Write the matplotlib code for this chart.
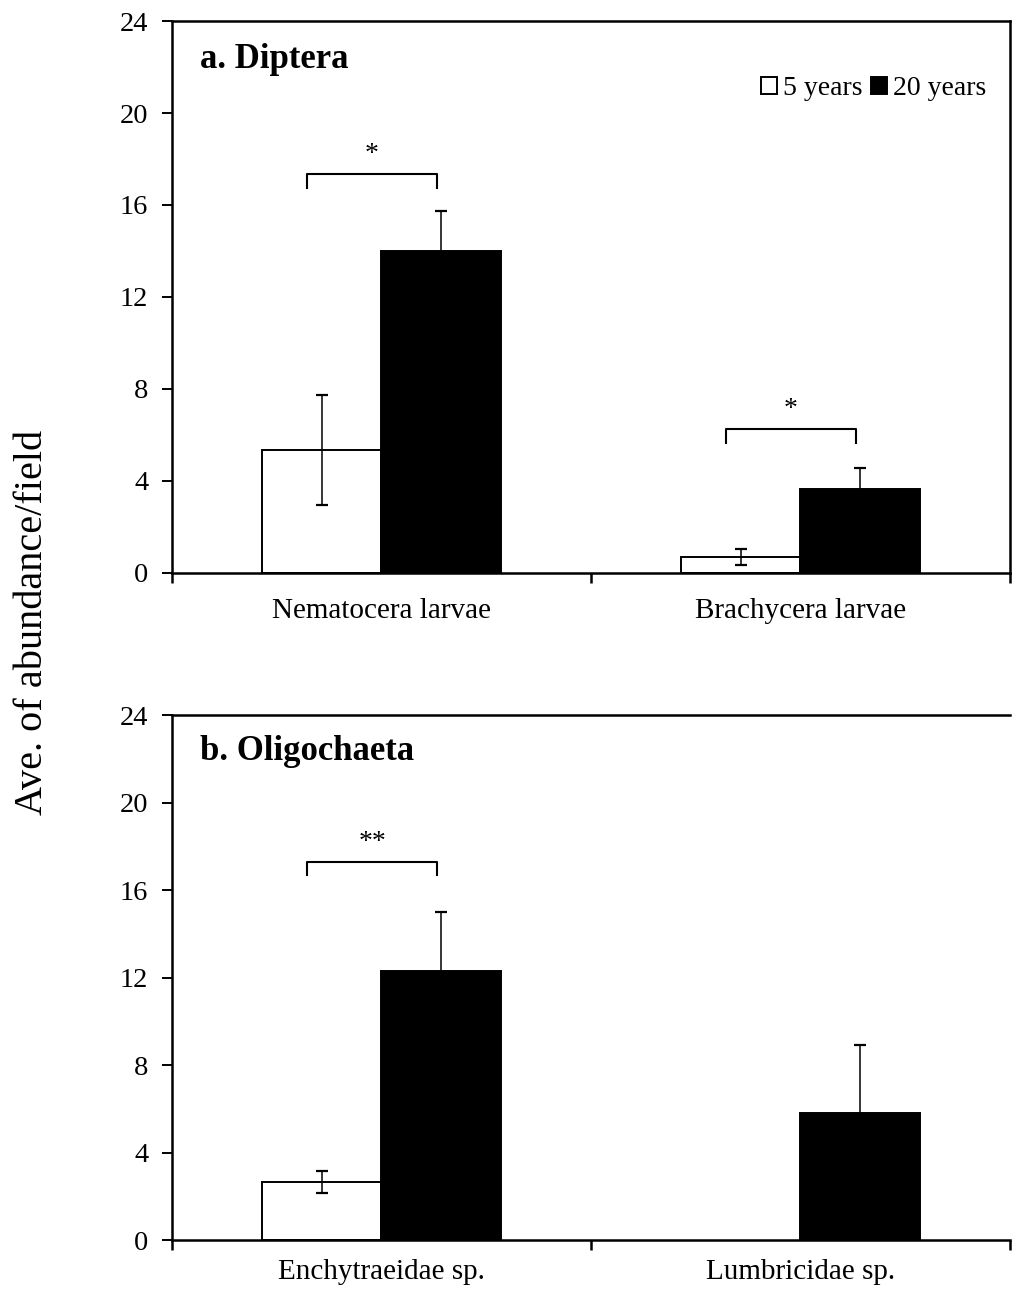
import matplotlib.pyplot as plt
from matplotlib.patches import Patch
import numpy as np

plt.rcParams['font.family'] = ['Liberation Serif', 'DejaVu Serif']

# panel a: Diptera
diptera_taxa = ['Nematocera larvae', 'Brachycera larvae']
diptera_5y = [5.35, 0.68]
diptera_5y_se = [2.4, 0.35]
diptera_20y = [14.0, 3.66]
diptera_20y_se = [1.75, 0.9]
diptera_sig = ['*', '*']
diptera_bracket = [17.35, 6.27]

# panel b: Oligochaeta
oligo_taxa = ['Enchytraeidae sp.', 'Lumbricidae sp.']
oligo_5y = [2.65, 0.0]
oligo_5y_se = [0.5, 0.0]
oligo_20y = [12.3, 5.8]
oligo_20y_se = [2.7, 3.1]
oligo_sig = ['**', None]
oligo_bracket = [17.3, None]

yticks = [0, 4, 8, 12, 16, 20, 24]
series = ['5 years', '20 years']

w = 0.286   # bar width in category units
lw_axis = 1.8


def draw_panel(ax, taxa, v5, e5, v20, e20, sig, brk, title, box=True, label_pad=18):
    x = np.arange(len(taxa))
    v5 = np.array(v5, dtype=float)
    keep = v5 > 0   # empty white bars are left out
    ax.bar((x - w/2)[keep], v5[keep], w, color='white', edgecolor='black',
           linewidth=1.4, zorder=2)
    ax.bar(x + w/2, v20, w, color='black', edgecolor='black', linewidth=1.4, zorder=2)
    for xi, v, e in zip(x - w/2, v5, e5):
        if e > 0:
            ax.errorbar(xi, v, yerr=e, fmt='none', ecolor='black', elinewidth=1.1,
                        capsize=4.5, capthick=1.6, zorder=3)
    for xi, v, e in zip(x + w/2, v20, e20):
        if e > 0:
            ax.errorbar(xi, v, yerr=e, fmt='none', ecolor='black', elinewidth=1.1,
                        capsize=4.5, capthick=1.6, zorder=3)

    # significance brackets
    for xi, s, h in zip(x, sig, brk):
        if s is None:
            continue
        x0, x1 = xi - w/2 - 0.035, xi + w/2 - 0.01
        ax.plot([x0, x0, x1, x1], [h - 0.6, h, h, h - 0.6], color='black',
                linewidth=1.5, solid_joinstyle='round', zorder=3)
        ax.text((x0 + x1) / 2, h + 0.3, s, ha='center', va='bottom', fontsize=20)

    ax.set_xlim(-0.5, len(taxa) - 0.5)
    ax.set_ylim(0, 24)
    ax.set_yticks(yticks)
    ax.set_xticks(np.arange(len(taxa) + 1) - 0.5)
    ax.set_xticklabels([])
    ax.set_xticks(x, minor=True)
    ax.set_xticklabels(taxa, minor=True)
    ax.tick_params(axis='x', which='major', direction='out', length=7, width=lw_axis)
    ax.tick_params(axis='x', which='minor', length=0, pad=label_pad, labelsize=21)
    ax.tick_params(axis='y', direction='out', length=7, width=1.4, pad=10, labelsize=20.5)

    for sp in ax.spines.values():
        sp.set_linewidth(lw_axis)
    if not box:
        ax.spines['right'].set_visible(False)

    ax.text(0.033, 0.93, title, transform=ax.transAxes, fontsize=25,
            fontweight='bold', va='center', ha='left')


fig = plt.figure(figsize=(10.14, 12.89), dpi=100)
ax1 = fig.add_axes([0.1696, 0.5555, 0.8264, 0.4282])
ax2 = fig.add_axes([0.1696, 0.0380, 0.8264, 0.4073])

draw_panel(ax1, diptera_taxa, diptera_5y, diptera_5y_se, diptera_20y, diptera_20y_se,
           diptera_sig, diptera_bracket, 'a. Diptera', box=True, label_pad=18)
draw_panel(ax2, oligo_taxa, oligo_5y, oligo_5y_se, oligo_20y, oligo_20y_se,
           oligo_sig, oligo_bracket, 'b. Oligochaeta', box=False, label_pad=14)

handles = [Patch(facecolor='white', edgecolor='black', linewidth=1.4),
           Patch(facecolor='black', edgecolor='black', linewidth=1.4)]
ax1.legend(handles, series, loc='upper right', bbox_to_anchor=(0.985, 0.92), ncol=2,
           frameon=False, fontsize=20, handlelength=0.6, handleheight=0.6,
           handletextpad=0.2, columnspacing=0.3, borderaxespad=0)

fig.text(0.032, 0.517, 'Ave. of abundance/field', rotation=90, fontsize=29,
         ha='center', va='center')

plt.savefig('out.png', dpi=100)
